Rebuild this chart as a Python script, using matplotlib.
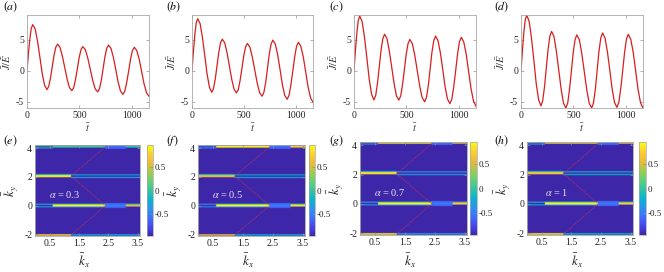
import numpy as np
import matplotlib
matplotlib.use("Agg")
import matplotlib.pyplot as plt
from matplotlib.colors import LinearSegmentedColormap

plt.rcParams.update({
    "font.family": "Liberation Serif",
    "mathtext.fontset": "stix",
    "axes.unicode_minus": False,
})

# ---------------- data: current vs time ----------------
t_bar = [0, 14, 28, 41, 55, 78, 100, 123, 145, 168, 190, 207, 224, 241, 258, 275,
         292, 315, 337, 360, 383, 405, 428, 446, 463, 481, 498, 516, 533, 557, 580,
         604, 628, 651, 675, 692, 710, 727, 744, 762, 779, 802, 825, 848, 870, 893,
         916, 934, 952, 971, 989, 1007, 1025, 1048, 1072, 1095, 1118, 1142, 1165]

J_a = [0, 2.85, 5.27, 6.88,
       7.45, 6.75, 4.83, 2.21, -0.41, -2.33,
       -3.03, -2.54, -1.20, 0.64, 2.47, 3.81,
       4.30, 3.80, 2.43, 0.55, -1.33, -2.70,
       -3.20, -2.72, -1.43, 0.35, 2.13, 3.42,
       3.90, 3.41, 2.08, 0.25, -1.58, -2.91,
       -3.40, -2.89, -1.51, 0.38, 2.26, 3.64,
       4.15, 3.62, 2.16, 0.18, -1.81, -3.27,
       -3.80, -3.29, -1.90, 0.00, 1.90, 3.29,
       3.80, 3.27, 1.83, -0.15, -2.13, -3.57,
       -4.10]
J_b = [0, 3.22, 5.94, 7.76,
       8.40, 7.61, 5.44, 2.47, -0.50, -2.67,
       -3.46, -2.89, -1.32, 0.82, 2.96, 4.53,
       5.10, 4.52, 2.94, 0.77, -1.40, -2.98,
       -3.56, -3.03, -1.57, 0.42, 2.41, 3.87,
       4.40, 3.83, 2.28, 0.15, -1.98, -3.53,
       -4.10, -3.49, -1.84, 0.43, 2.69, 4.34,
       4.95, 4.31, 2.56, 0.18, -2.21, -3.96,
       -4.60, -3.98, -2.30, 0.00, 2.30, 3.98,
       4.60, 3.95, 2.19, -0.23, -2.64, -4.40,
       -5.05]
J_c = [0, 3.38, 6.24, 8.16,
       8.83, 7.92, 5.45, 2.07, -1.32, -3.79,
       -4.70, -3.99, -2.05, 0.60, 3.25, 5.19,
       5.90, 5.19, 3.24, 0.59, -2.07, -4.02,
       -4.73, -4.07, -2.29, 0.16, 2.61, 4.39,
       5.05, 4.38, 2.54, 0.03, -2.49, -4.33,
       -5.00, -4.29, -2.35, 0.30, 2.95, 4.89,
       5.60, 4.87, 2.88, 0.15, -2.58, -4.57,
       -5.30, -4.58, -2.63, 0.05, 2.73, 4.68,
       5.40, 4.66, 2.63, -0.15, -2.93, -4.96,
       -5.70]
J_d = [0, 3.43, 6.33, 8.27,
       8.95, 7.97, 5.30, 1.65, -2.00, -4.67,
       -5.65, -4.85, -2.65, 0.35, 3.35, 5.55,
       6.35, 5.52, 3.26, 0.18, -2.91, -5.17,
       -6.00, -5.21, -3.05, -0.10, 2.85, 5.01,
       5.80, 5.01, 2.85, -0.10, -3.05, -5.21,
       -6.00, -5.19, -2.98, 0.05, 3.08, 5.29,
       6.10, 5.30, 3.10, 0.10, -2.90, -5.10,
       -5.90, -5.11, -2.95, 0.00, 2.95, 5.11,
       5.90, 5.10, 2.93, -0.05, -3.03, -5.20,
       -6.00]
top_labels = ["(a)", "(b)", "(c)", "(d)"]
t_ticks = [0, 500, 1000]
J_ticks = [-5, 0, 5]

# ---------------- data: momentum maps ----------------
alphas = ["0.3", "0.5", "0.7", "1"]
bottom_labels = ["(e)", "(f)", "(g)", "(h)"]
kx_range = [0.0, 3.58]
ky_range = [-2.12, 4.22]
kx_ticks = [0.5, 1.5, 2.5, 3.5]
ky_ticks = [-2, 0, 2, 4]
cbar_ticks = [-0.5, 0, 0.5]
background_val = -0.95
# stripes: centre ky, kx start, kx end, half width (ky)
stripe_ky = [-2.05, -2.05, 0.00, -0.09, 0.09, 0.10, -0.10, 0.00, 0.00, 0.10,
             0.00, 2.16, 2.05, 1.96, 2.14, 4.10, 4.02, 4.16, 4.11, 4.11]
stripe_kx0 = [0.00, 1.23, 2.40, 0.00, 0.00, 0.60, 0.60, 0.60, 2.45, 3.10,
              3.10, 0.00, 0.00, 1.23, 1.23, 2.40, 0.00, 0.00, 0.60, 3.10]
stripe_kx1 = [1.23, 3.58, 3.10, 0.60, 0.60, 2.40, 2.40, 2.40, 3.05, 3.58,
              3.58, 1.23, 1.23, 3.58, 3.58, 3.10, 0.60, 0.60, 2.40, 3.58]
stripe_hw = [0.055, 0.05, 0.17, 0.04, 0.04, 0.04, 0.035, 0.07, 0.03, 0.04,
             0.07, 0.04, 0.075, 0.04, 0.04, 0.14, 0.04, 0.04, 0.07, 0.07]
val_e = [0.75, -0.25, -0.60, -0.35, -0.25, -0.20, -0.55, 0.90, -0.40, -0.20,
         0.55, -0.20, 0.88, -0.30, -0.25, -0.60, -0.10, -0.05, 0.00, -0.05]
val_f = [0.55, -0.25, -0.60, -0.45, -0.45, -0.20, -0.55, 0.92, -0.40, -0.20,
         0.85, -0.20, 0.62, -0.25, -0.20, -0.60, -0.45, -0.40, 0.90, 0.70]
val_g = [0.85, -0.35, -0.60, -0.35, -0.40, -0.25, -0.50, 0.92, -0.40, -0.40,
         0.70, -0.30, 0.85, -0.35, -0.30, -0.60, -0.45, -0.45, 0.90, 0.65]
val_h = [0.85, -0.20, -0.60, -0.25, -0.25, -0.15, -0.50, 0.92, -0.45, -0.25,
         0.75, -0.15, 0.70, -0.20, -0.15, -0.60, -0.30, -0.30, 0.80, 0.70]
# Bragg zigzag (red dotted)
bragg_kx = [2.40, 1.23, 2.40, 1.23]
bragg_ky = [4.12, 2.05, 0.00, -2.05]

# parula-like colormap
parula = LinearSegmentedColormap.from_list("parula", [
    (0.00, (0.2422, 0.1504, 0.6603)),
    (0.10, (0.2803, 0.2782, 0.9221)),
    (0.20, (0.2440, 0.4358, 0.9988)),
    (0.30, (0.1540, 0.5902, 0.9218)),
    (0.40, (0.0297, 0.7082, 0.8163)),
    (0.50, (0.1938, 0.7758, 0.6251)),
    (0.60, (0.3954, 0.8184, 0.4578)),
    (0.70, (0.6473, 0.7905, 0.2997)),
    (0.80, (0.9300, 0.7300, 0.2300)),
    (0.90, (0.9892, 0.8130, 0.1880)),
    (1.00, (0.9769, 0.9839, 0.0805)),
])

W, H = 664, 272
fig = plt.figure(figsize=(W / 100, H / 100), dpi=100)


def box(l, r, t, b):
    return [l / W, 1 - b / H, (r - l) / W, (b - t) / H]


def style(ax):
    for s in ax.spines.values():
        s.set_color("#a8a8a8")
        s.set_linewidth(0.6)
    ax.tick_params(direction="in", length=2, width=0.5, color="#909090",
                   labelsize=7, labelcolor="#222222", top=True, right=True, pad=2)


top_pos = [(27, 149, 15, 108), (192, 313, 15, 108), (354, 476, 15, 108), (521, 643, 15, 108)]
top_lab_x = [3, 166, 329, 494]
series = [J_a, J_b, J_c, J_d]
for i, (l, r, t, b) in enumerate(top_pos):
    ax = fig.add_axes(box(l, r, t, b))
    ax.plot(t_bar, series[i], color="#d81e1e", lw=0.9)
    ax.set_xlim(0, 1165)
    ax.set_ylim(-6, 9)
    ax.set_xticks(t_ticks)
    ax.set_yticks(J_ticks)
    style(ax)
    fig.text((l - 20) / W, 1 - ((t + b) / 2) / H, r"$\bar{J}/\bar{E}$", rotation=90,
             ha="center", va="center", fontsize=7.5, color="#333333")
    fig.text(((l + r) / 2) / W, 1 - 128 / H, r"$\bar{t}$", ha="center", va="center",
             fontsize=7.5, color="#333333")
    fig.text(top_lab_x[i] / W, 1 - 7 / H, "$" + top_labels[i] + "$", ha="left", va="center",
             fontsize=8.5)

bot_pos = [(35, 140, 145, 236), (198, 305, 145, 236), (360, 467, 142, 235), (527, 633, 142, 235)]
cb_pos = [(147, 153), (309, 315), (470, 477), (639, 646)]
vals = [val_e, val_f, val_g, val_h]
kx = np.linspace(kx_range[0], kx_range[1], 420)
ky = np.linspace(ky_range[0], ky_range[1], 760)
KX, KY = np.meshgrid(kx, ky)
for i, (l, r, t, b) in enumerate(bot_pos):
    Z = np.full(KX.shape, background_val)
    for c, x0, x1, hw, v in zip(stripe_ky, stripe_kx0, stripe_kx1, stripe_hw, vals[i]):
        m = (np.abs(KY - c) <= hw) & (KX >= x0) & (KX <= x1)
        Z[m] = v
    ax = fig.add_axes(box(l, r, t, b))
    im = ax.imshow(Z, extent=[kx_range[0], kx_range[1], ky_range[0], ky_range[1]],
                   origin="lower", aspect="auto", cmap=parula, vmin=-0.95, vmax=0.95,
                   interpolation="bilinear")
    ax.plot(bragg_kx, bragg_ky, color="#d0305a", lw=0.6, ls=(0, (1.5, 1.0)), alpha=0.85)
    ax.set_xlim(kx_range)
    ax.set_ylim(ky_range)
    ax.set_xticks(kx_ticks)
    ax.set_yticks(ky_ticks)
    style(ax)
    ax.text(1.0, 0.75, r"$\alpha$ = " + alphas[i], color="#e6e6f2", fontsize=7.5,
            ha="center", va="center")
    cl, cr = cb_pos[i]
    cax = fig.add_axes(box(cl, cr, t, b))
    cb = fig.colorbar(im, cax=cax, ticks=cbar_ticks)
    cb.ax.set_yticklabels(["-0.5", "0", "0.5"])
    cb.outline.set_edgecolor("#a8a8a8")
    cb.outline.set_linewidth(0.5)
    cb.ax.tick_params(direction="in", length=2, width=0.5, color="#909090",
                      labelsize=6.5, labelcolor="#222222", pad=1)
    fig.text(((l + r) / 2 - 3) / W, 1 - 261 / H, r"$\bar{k}_x$", ha="center", va="center",
             fontsize=9.5, color="#222222")
    fig.text((l - 24) / W, 1 - ((t + b) / 2) / H, r"$\bar{k}_y$", rotation=90,
             ha="center", va="center", fontsize=9.5, color="#222222")
    fig.text(top_lab_x[i] / W, 1 - 141 / H, "$" + bottom_labels[i] + "$", ha="left",
             va="center", fontsize=8.5)

fig.savefig("out.png", dpi=100)
